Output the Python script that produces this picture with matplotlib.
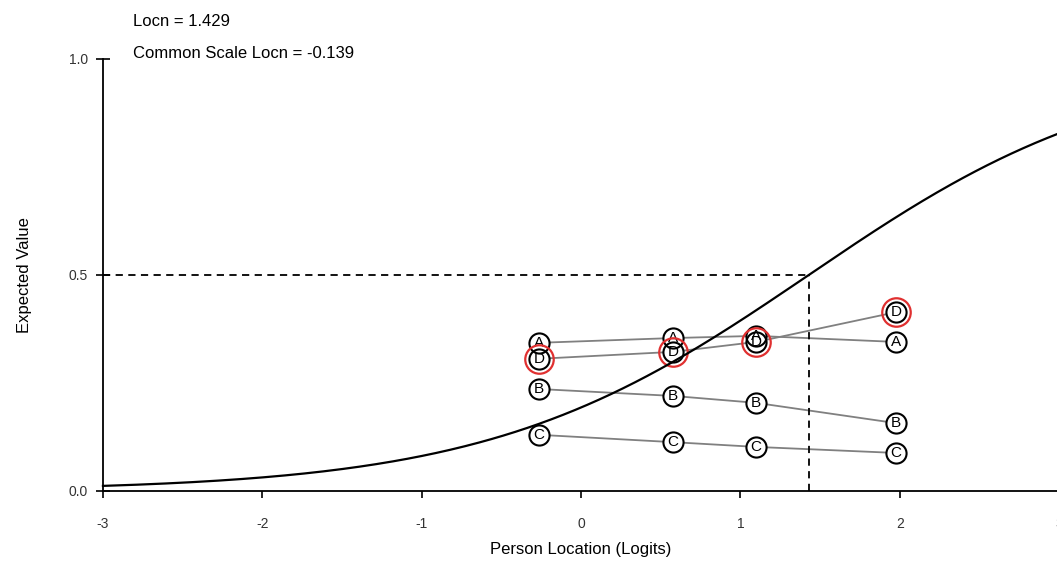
"""
Item characteristic curve with observed class means (items A-D).
"""

import numpy as np
import matplotlib
matplotlib.use('Agg')
import matplotlib.pyplot as plt

plt.rcParams['font.family'] = ['Liberation Sans', 'DejaVu Sans']

item_locn = 1.429
common_locn = -0.139

class_locs = [-0.263, 0.578, 1.099, 1.978]
items = ['A', 'B', 'C', 'D']
obs_a = [0.343, 0.354, 0.359, 0.345]
obs_b = [0.236, 0.220, 0.204, 0.157]
obs_c = [0.130, 0.113, 0.102, 0.088]
obs_d = [0.306, 0.322, 0.345, 0.414]
highlight = ['D']

x_ticks = [-3, -2, -1, 0, 1, 2, 3]
y_ticks = [0.0, 0.5, 1.0]

fig = plt.figure(figsize=(10.57, 5.68), dpi=100)
ax = fig.add_axes([0.0974, 0.1356, 0.9046, 0.7606])

# expected value curve for the item location
xs = np.linspace(-3, 3, 400)
ax.plot(xs, 1 / (1 + np.exp(-(xs - item_locn))), color='black', lw=1.6, zorder=5,
        clip_on=False)

ax.plot([-3, item_locn], [0.5, 0.5], color='black', lw=1.3, ls=(0, (4, 3)), zorder=5)
ax.plot([item_locn, item_locn], [0, 0.5], color='black', lw=1.3, ls=(0, (4, 3)), zorder=5)

obs = dict(zip(items, [obs_a, obs_b, obs_c, obs_d]))
for name in items:
    ax.plot(class_locs, obs[name], color='#808080', lw=1.3, zorder=1)
for name in items:
    ax.plot(class_locs, obs[name], ls='none', marker='o', ms=14.5, mfc='white',
            mec='none', zorder=2)
for name in items:
    ax.plot(class_locs, obs[name], ls='none', marker='o', ms=14.5, mfc='none',
            mec='black', mew=1.5, zorder=3)
    for x, y in zip(class_locs, obs[name]):
        ax.text(x, y, name, ha='center', va='center', fontsize=11, zorder=3)
    if name in highlight:
        ax.plot(class_locs, obs[name], ls='none', marker='o', ms=20.5, mfc='none',
                mec='#e03030', mew=1.6, zorder=4)

ax.set_xlim(-3, 3)
ax.set_ylim(0, 1)
ax.spines['top'].set_visible(False)
ax.spines['right'].set_visible(False)
ax.spines['left'].set_linewidth(1.3)
ax.spines['bottom'].set_linewidth(1.3)
ax.set_xticks(x_ticks, [str(t) for t in x_ticks])
ax.set_yticks(y_ticks, ['%.1f' % t for t in y_ticks])
ax.tick_params(axis='x', direction='out', length=5, width=1.2, pad=14,
               labelsize=10, labelcolor='#333333')
ax.tick_params(axis='y', direction='inout', length=10, width=1.2, pad=6,
               labelsize=10, labelcolor='#333333')

ax.set_xlabel('Person Location (Logits)', fontsize=12, labelpad=8)
ax.set_ylabel('Expected Value', fontsize=12, labelpad=26)

fig.text(0.126, 0.963, 'Locn = %.3f' % item_locn, fontsize=12, va='center')
fig.text(0.126, 0.906, 'Common Scale Locn = %.3f' % common_locn, fontsize=12,
         va='center')

fig.savefig('out.png', dpi=100)
